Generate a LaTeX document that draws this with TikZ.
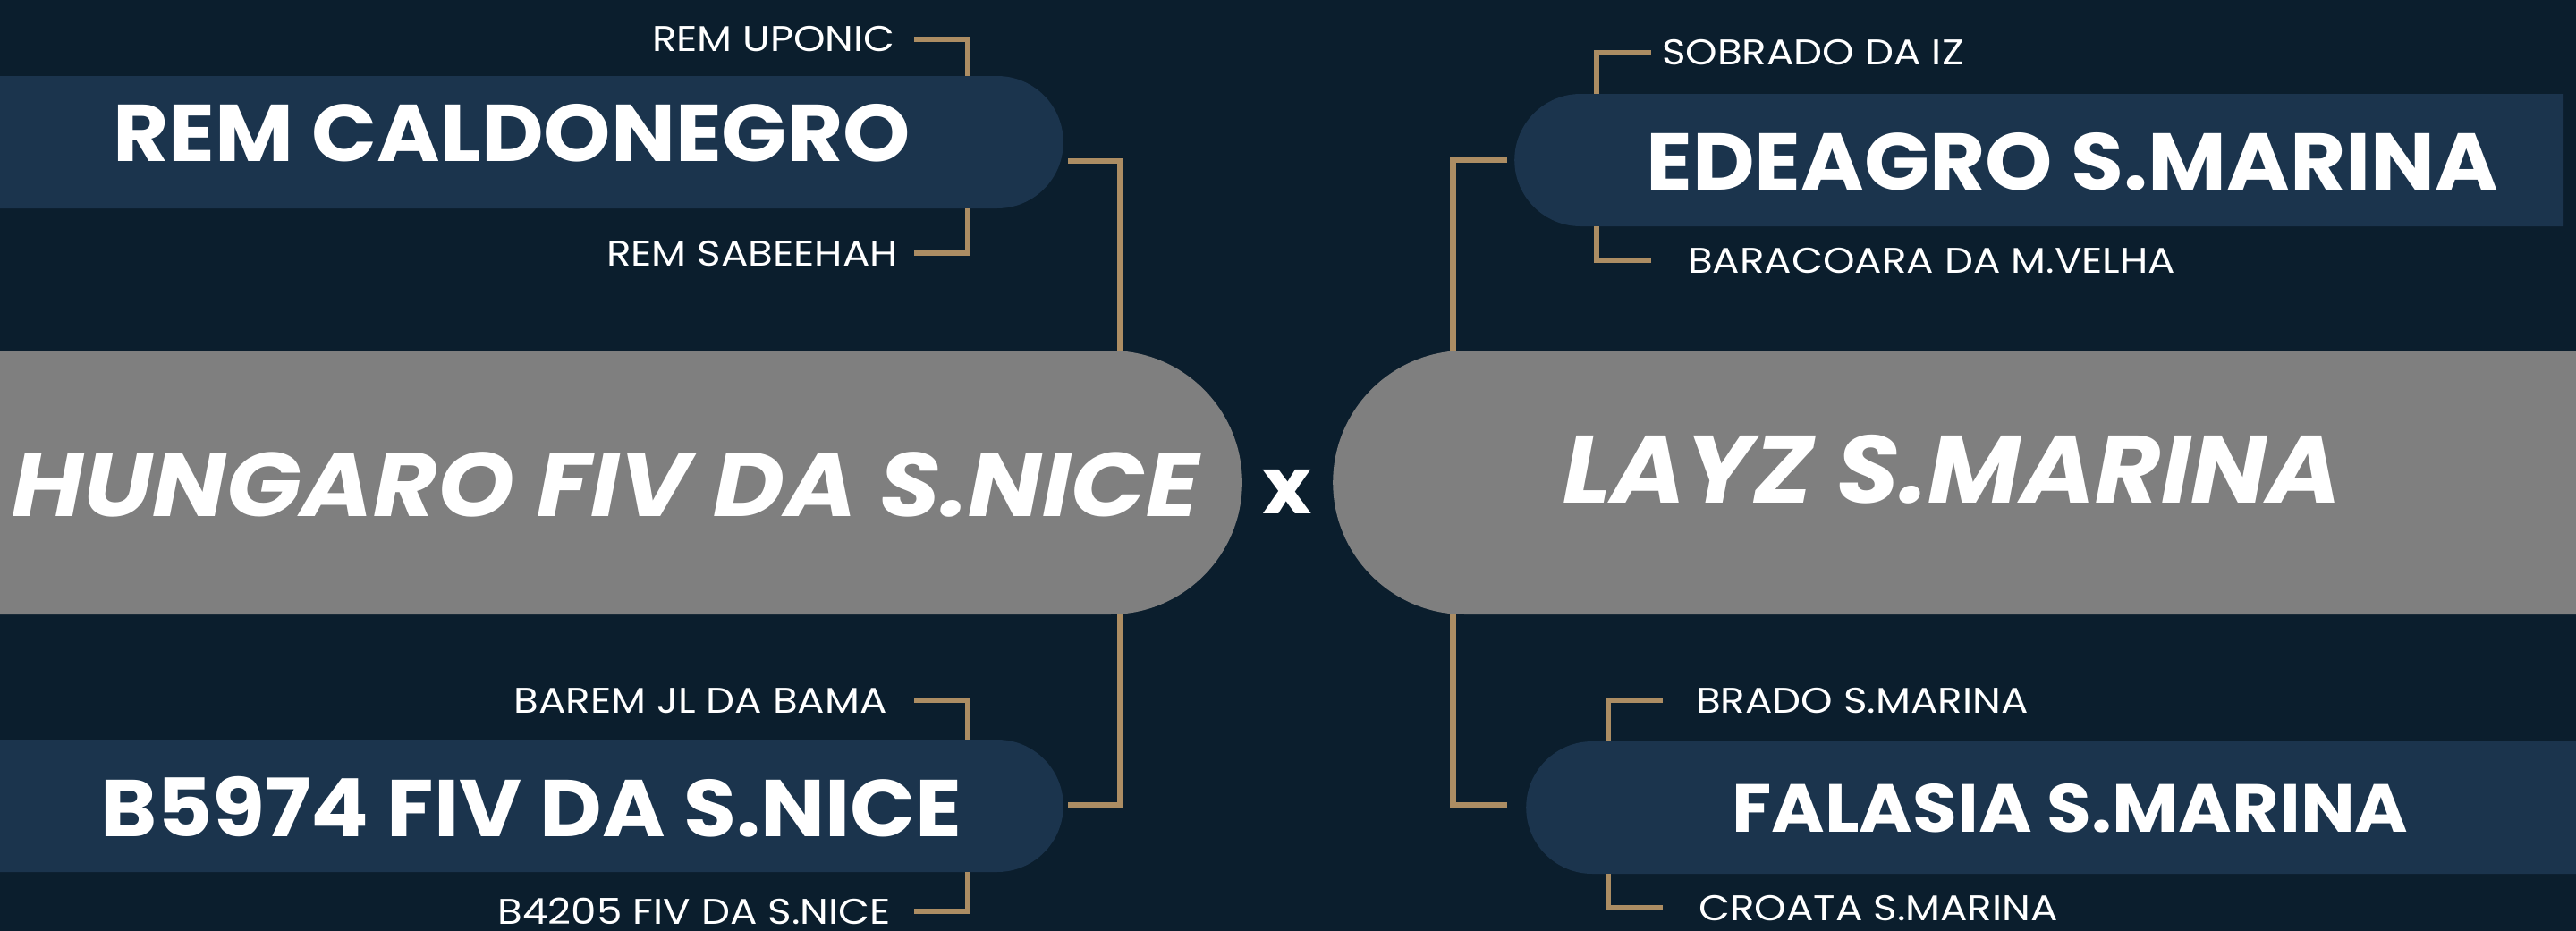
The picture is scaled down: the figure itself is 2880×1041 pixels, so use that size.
\documentclass[tikz,border=0pt]{standalone}
\usepackage{fontspec}
\setmainfont{Poppins}
\usetikzlibrary{positioning,shapes.misc}
\definecolor{bgnavy}{RGB}{11,30,45}
\definecolor{boxnavy}{RGB}{27,52,77}
\definecolor{boxgrey}{RGB}{127,127,127}
\definecolor{tiegold}{RGB}{172,141,99}

\begin{document}
\begin{tikzpicture}[x=1pt, y=-1pt,
  horse/.style={rounded rectangle, rounded rectangle #1 arc=none, fill=boxgrey, minimum height=295pt, minimum width=1500pt, inner sep=0pt},
  gpbox/.style={rounded rectangle, rounded rectangle #1 arc=none, fill=boxnavy, minimum height=148pt, inner sep=0pt},
  bigname/.style 2 args={text=white, inner sep=0pt, font=\fontsize{#1}{#1}\selectfont\bfseries\itshape\addfontfeature{FakeStretch=#2}},
  gpname/.style={text=white, inner sep=0pt, font=\fontsize{#1}{#1}\selectfont\bfseries\addfontfeature{FakeStretch=1.065}},
  ggpname/.style={text=white, inner sep=0pt, text height=28pt, text depth=0pt, font=\fontsize{40pt}{40pt}\selectfont\addfontfeature{FakeStretch=1.13}},
  tie/.style={draw=tiegold, line width=6.5pt}
]
  % Background
  \useasboundingbox (0,0) rectangle (2880,1041);
  \fill[bgnavy] (0,0) rectangle (2880,1041);
  \clip (0,0) rectangle (2880,1041);

  % Parents
  \node[horse=west, anchor=east] (hungaro) at (1389,539.5) {};
  \node[horse=east, anchor=west] (layz) at (1490,539.5) {};
  \node[bigname={101pt}{1.085}, anchor=base] (hungaro-name) at (677,577) {HUNGARO FIV DA S.NICE};
  \node[bigname={107pt}{1.056}, anchor=base] (layz-name) at (2182.5,562) {LAYZ S.MARINA};
  \node[gpname=88pt, anchor=base] (cross) at (1439.5,574) {x};

  % Grandparents
  \node[gpbox=west, minimum width=1300pt, anchor=east] (caldonegro) at (1189,159) {};
  \node[gpbox=west, minimum width=1300pt, anchor=east] (b5974) at (1189,901) {};
  \node[gpbox=east, minimum width=1173pt, anchor=west] (edeagro) at (1693,179) {};
  \node[gpbox=east, minimum width=1300pt, anchor=west] (falasia) at (1706,903) {};
  \node[gpname=90pt, anchor=base] (caldonegro-name) at (572,180) {REM CALDONEGRO};
  \node[gpname=90pt, anchor=base] (b5974-name) at (594,935) {B5974 FIV DA S.NICE};
  \node[gpname=90pt, anchor=base] (edeagro-name) at (2317,212) {EDEAGRO S.MARINA};
  \node[gpname=76pt, anchor=base] (falasia-name) at (2314.5,930) {FALASIA S.MARINA};

  % Great-grandparents
  \node[ggpname, anchor=base east] (uponic) at (1001,58) {REM UPONIC};
  \node[ggpname, anchor=base east] (sabeehah) at (1004,297) {REM SABEEHAH};
  \node[ggpname, anchor=base east] (barem) at (992,797) {BAREM JL DA BAMA};
  \node[ggpname, anchor=base east] (b4205) at (996,1033) {B4205 FIV DA S.NICE};
  \node[ggpname, anchor=base west] (sobrado) at (1858,73) {SOBRADO DA IZ};
  \node[ggpname, anchor=base west] (baracoara) at (1887,305) {BARACOARA DA M.VELHA};
  \node[ggpname, anchor=base west] (brado) at (1896,797) {BRADO S.MARINA};
  \node[ggpname, anchor=base west] (croata) at (1899,1029) {CROATA S.MARINA};

  % Columns
  \coordinate (spinel) at (1252.5,0);
  \coordinate (spiner) at (1624.5,0);
  \coordinate (coll) at (1082,0);
  \coordinate (stubl) at (1022,0);
  \coordinate (colr) at (1785,0);
  \coordinate (stubr) at (1846,0);
  \coordinate (colrr) at (1798,0);
  \coordinate (stubrr) at (1859,0);

  % Lines
  \draw[tie] ([shift={(5,21)}]caldonegro.east) -| (spinel |- hungaro.north);
  \draw[tie] ([shift={(5,-1)}]b5974.east) -| (spinel |- hungaro.south);
  \draw[tie] ([shift={(-8,0)}]edeagro.west) -| (spiner |- layz.north);
  \draw[tie] ([shift={(-21,-3)}]falasia.west) -| (spiner |- layz.south);
  \draw[tie] (stubl |- uponic.east) -| (coll |- caldonegro.north);
  \draw[tie] (stubl |- sabeehah.east) -| (coll |- caldonegro.south);
  \draw[tie] (stubl |- barem.east) -| (coll |- b5974.north);
  \draw[tie] (stubl |- b4205.east) -| (coll |- b5974.south);
  \draw[tie] (stubr |- sobrado.west) -| (colr |- edeagro.north);
  \draw[tie] (stubr |- baracoara.west) -| (colr |- edeagro.south);
  \draw[tie] (stubrr |- brado.west) -| (colrr |- falasia.north);
  \draw[tie] (stubrr |- croata.west) -| (colrr |- falasia.south);
\end{tikzpicture}
\end{document}
